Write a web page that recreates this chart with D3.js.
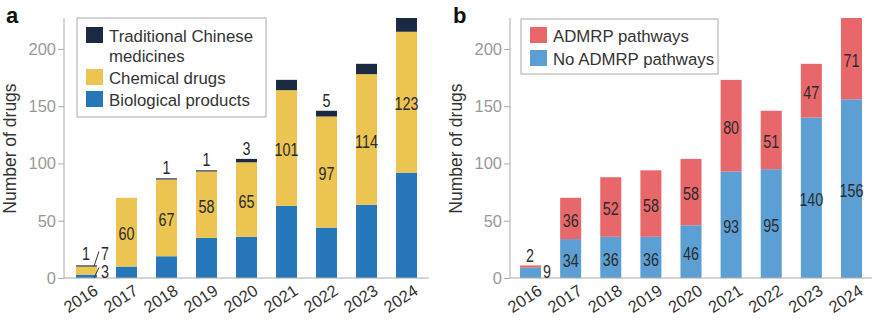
<!DOCTYPE html>
<html>
<head>
<meta charset="utf-8">
<script src="https://cdn.jsdelivr.net/npm/d3@7"></script>
<style>
  body { margin: 0; background: #fff; }
  text { font-family: "Liberation Sans", Arial, sans-serif; }
</style>
</head>
<body>
<div id="chart"></div>
<script>
// Datos
const years = ["2016", "2017", "2018", "2019", "2020", "2021", "2022", "2023", "2024"];
const biological = [3, 10, 19, 35, 36, 63, 44, 64, 92];
const chemical = [7, 60, 67, 58, 65, 101, 97, 114, 123];
const tcm = [1, 0, 1, 1, 3, 9, 5, 9, 12];
const noAdmrp = [9, 34, 36, 36, 46, 93, 95, 140, 156];
const admrp = [2, 36, 52, 58, 58, 80, 51, 47, 71];
const yTicks = [0, 50, 100, 150, 200];

// etiquetas que se muestran dentro de cada segmento (null = sin etiqueta centrada)
const chemLabels = [null, 60, 67, 58, 65, 101, 97, 114, 123];
const tcmLabels = [null, null, 1, 1, 3, null, 5, null, null];
const noAdmrpLabels = [null, 34, 36, 36, 46, 93, 95, 140, 156];
const admrpLabels = [null, 36, 52, 58, 58, 80, 51, 47, 71];

const W = 879, H = 326;
const svg = d3.select("#chart").append("svg")
  .attr("width", W).attr("height", H);

const y = d3.scaleLinear().domain([0, 227]).range([278, 18]);

// texto de valor: fuente estrecha (escalada en horizontal)
function valueText(g, cx, cy, txt, dy) {
  g.append("text")
    .attr("transform", `translate(${cx},${cy}) scale(0.82,1)`)
    .attr("dy", dy)
    .attr("text-anchor", "middle")
    .attr("fill", "#2b2b2b")
    .style("font-size", "17.5px")
    .text(txt);
}

function drawPanel(opts) {
  const g = svg.append("g");
  const x = d3.scaleBand().domain(years)
    .range(opts.xr).paddingInner(0.476).paddingOuter(opts.po);

  // ejes
  const yAxis = g.append("g")
    .attr("transform", `translate(${opts.xr[0]},0)`)
    .call(d3.axisLeft(y).tickValues(yTicks).tickSize(6).tickPadding(2));
  yAxis.select(".domain").remove();
  yAxis.selectAll(".tick line").attr("stroke", "#aaa");
  yAxis.selectAll(".tick text")
    .attr("fill", "#999").style("font-size", "16.5px");
  g.append("line")
    .attr("x1", opts.xr[0]).attr("x2", opts.xr[0])
    .attr("y1", y(0)).attr("y2", y(227))
    .attr("stroke", "#aaa").attr("stroke-width", 1);

  // barras apiladas
  const stackKeys = opts.series.map(s => s.key);
  const rows = years.map((yr, i) => {
    const r = { year: yr };
    opts.series.forEach(s => r[s.key] = s.values[i]);
    return r;
  });
  const stacked = d3.stack().keys(stackKeys)(rows);
  stacked.forEach((layer, li) => {
    g.selectAll(null).data(layer).enter().append("rect")
      .attr("x", d => x(d.data.year))
      .attr("width", x.bandwidth())
      .attr("y", d => y(d[1]))
      .attr("height", d => y(d[0]) - y(d[1]))
      .attr("fill", opts.series[li].color);
  });

  g.append("line")
    .attr("x1", opts.xr[0]).attr("x2", opts.xr[1])
    .attr("y1", y(0)).attr("y2", y(0))
    .attr("stroke", "#aaa").attr("stroke-width", 1);

  // etiquetas de valores
  stacked.forEach((layer, li) => {
    const labels = opts.series[li].labels;
    layer.forEach((d, i) => {
      if (labels[i] == null) return;
      const inside = d[1] - d[0] > 6;
      const cx = x(d.data.year) + x.bandwidth() / 2;
      if (inside) valueText(g, cx, y((d[0] + d[1]) / 2) + 2, labels[i], "0.36em");
      else valueText(g, cx, y(d[1]) - 4, labels[i], "0");
    });
  });

  // años
  g.selectAll(".yr").data(years).enter().append("text")
    .attr("transform", d => `translate(${x(d) + x.bandwidth() / 2 + 6},${y(0) + 5}) rotate(-33)`)
    .attr("text-anchor", "end")
    .attr("dy", "0.75em")
    .attr("fill", "#333")
    .style("font-size", "16.5px")
    .text(d => d);

  // título eje Y
  g.append("text")
    .attr("transform", `translate(${opts.xr[0] - 48},${y(113)}) rotate(-90)`)
    .attr("text-anchor", "middle")
    .attr("fill", "#333")
    .style("font-size", "17.5px")
    .text("Number of drugs");

  // letra del panel
  g.append("text")
    .attr("x", opts.letterX).attr("y", 23)
    .attr("fill", "#111")
    .style("font-size", "22px").style("font-weight", "bold")
    .text(opts.letter);

  // leyenda
  const lg = opts.legend;
  g.append("rect")
    .attr("x", lg.x).attr("y", lg.y).attr("width", lg.w).attr("height", lg.h)
    .attr("fill", "#fff").attr("stroke", "#aaa").attr("stroke-width", 1);
  lg.items.forEach(it => {
    g.append("rect")
      .attr("x", lg.x + 9).attr("y", it.sy)
      .attr("width", 17).attr("height", 16)
      .attr("fill", it.color);
    it.lines.forEach((ln, j) => {
      g.append("text")
        .attr("x", lg.x + 32).attr("y", it.sy + 15 + j * 20)
        .attr("fill", "#333")
        .style("font-size", "16.8px")
        .text(ln);
    });
  });

  return { g, x };
}

const a = drawPanel({
  xr: [64, 429], po: 0.3,
  letter: "a", letterX: 6,
  series: [
    { key: "bio", values: biological, color: "#2677b9", labels: biological.map(() => null) },
    { key: "chem", values: chemical, color: "#ecc452", labels: chemLabels },
    { key: "tcm", values: tcm, color: "#1b2a42", labels: tcmLabels }
  ],
  legend: {
    x: 77, y: 18, w: 189, h: 99,
    items: [
      { color: "#1b2a42", sy: 27, lines: ["Traditional Chinese", "medicines"] },
      { color: "#ecc452", sy: 69, lines: ["Chemical drugs"] },
      { color: "#2677b9", sy: 91, lines: ["Biological products"] }
    ]
  }
});

const b = drawPanel({
  xr: [510, 872], po: 0.25,
  letter: "b", letterX: 453,
  series: [
    { key: "no", values: noAdmrp, color: "#5c9fd4", labels: noAdmrpLabels },
    { key: "yes", values: admrp, color: "#e8676b", labels: admrpLabels }
  ],
  legend: {
    x: 521, y: 19, w: 197, h: 55,
    items: [
      { color: "#e8676b", sy: 27, lines: ["ADMRP pathways"] },
      { color: "#5c9fd4", sy: 50, lines: ["No ADMRP pathways"] }
    ]
  }
});

// etiquetas pequeñas de 2016 con líneas guía
function smallLabel(panel, txt, dx, val, dy) {
  valueText(panel.g, panel.x(years[0]) + dx, y(val) + dy, txt, "0");
}
function leader(panel, v0, v1, dx1, dy1) {
  const xr = panel.x(years[0]) + panel.x.bandwidth();
  panel.g.append("line")
    .attr("x1", xr - 3).attr("y1", y(v0))
    .attr("x2", xr - 3 + dx1).attr("y2", y(v1) + dy1)
    .attr("stroke", "#333").attr("stroke-width", 1);
}
// panel a
const top16 = biological[0] + chemical[0] + tcm[0];
smallLabel(a, tcm[0], 10, top16, -5);
leader(a, biological[0] + chemical[0], top16, 5, -14);
smallLabel(a, chemical[0], 29, top16, -5);
leader(a, 0, biological[0], 5, -7);
smallLabel(a, biological[0], 29, 0, 0);
// panel b
smallLabel(b, admrp[0], 10, noAdmrp[0] + admrp[0], -3);
smallLabel(b, noAdmrp[0], 27, 0, 0);
</script>
</body>
</html>
